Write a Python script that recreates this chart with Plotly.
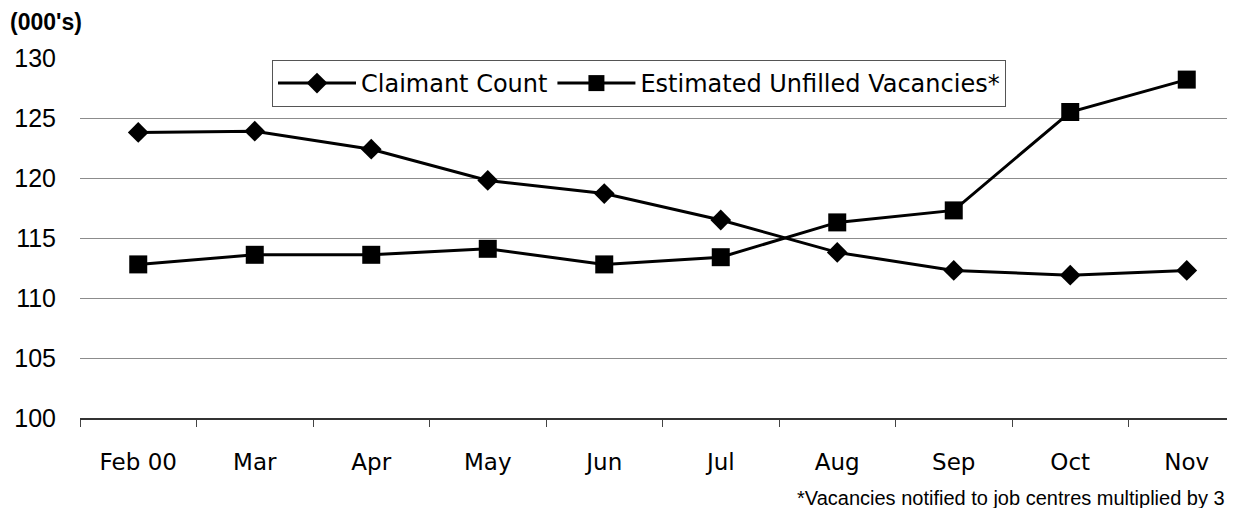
import plotly.graph_objects as go

months = ["Feb 00", "Mar", "Apr", "May", "Jun", "Jul", "Aug", "Sep", "Oct", "Nov"]
claimant_count = [123.8, 123.9, 122.4, 119.8, 118.7, 116.5, 113.8, 112.3, 111.9, 112.3]
unfilled_vacancies = [112.8, 113.6, 113.6, 114.1, 112.8, 113.4, 116.3, 117.3, 125.5, 128.2]
y_ticks = [100, 105, 110, 115, 120, 125, 130]

SANS = "Liberation Sans, Arial, sans-serif"
WIDE = "DejaVu Sans, sans-serif"

W, H = 1219, 500
ML, MT, MB = 72, 50, 90
PW = W - ML
PH = H - MT - MB
CAT_W = 116.5

fig = go.Figure()
fig.add_trace(go.Scatter(
    x=months, y=claimant_count, name="Claimant Count",
    mode="lines+markers",
    line=dict(color="black", width=3),
    marker=dict(symbol="diamond", size=16, color="black"),
))
fig.add_trace(go.Scatter(
    x=months, y=unfilled_vacancies, name="Estimated Unfilled Vacancies*",
    mode="lines+markers",
    line=dict(color="black", width=3),
    marker=dict(symbol="square", size=18, color="black"),
))

fig.update_layout(
    width=W, height=H,
    margin=dict(l=ML, r=0, t=MT, b=MB),
    paper_bgcolor="white", plot_bgcolor="white",
    font=dict(family=SANS, size=21, color="black"),
    showlegend=True,
    legend=dict(
        orientation="h",
        x=(272 - 80) / PW, y=(418 - 60) / PH, xanchor="left", yanchor="top",
        bordercolor="#555", borderwidth=1, bgcolor="white",
        font=dict(family=WIDE, size=24, color="black"),
        itemwidth=78,
        tracegroupgap=0,
    ),
    xaxis=dict(
        type="category",
        range=[-0.5, -0.5 + PW / CAT_W],
        showgrid=False,
        showline=True, linecolor="#333", linewidth=1.5,
        ticks="outside", tickson="boundaries", ticklen=7, tickcolor="#444",
        tickfont=dict(family=WIDE, size=23, color="black"),
        ticklabelstandoff=23,
    ),
    yaxis=dict(
        range=[100, 130],
        tickvals=y_ticks,
        showgrid=True, gridcolor="#8c8c8c", gridwidth=1,
        showline=False, zeroline=False,
        ticks="", tickfont=dict(family=SANS, size=25, color="black"),
        ticklabelstandoff=23,
    ),
    annotations=[
        dict(text="<b>(000's)</b>", xref="paper", yref="paper",
             x=-(ML - 0) / PW, y=(418 - 22) / PH, xanchor="left", yanchor="middle",
             showarrow=False, font=dict(family=SANS, size=23, color="black")),
        dict(text="*Vacancies notified to job centres multiplied by 3",
             xref="paper", yref="paper", x=1.0, y=(418 - 498) / PH,
             xanchor="right", yanchor="middle", showarrow=False,
             font=dict(family=SANS, size=20, color="black")),
    ],
)

fig.write_html("out.html")
